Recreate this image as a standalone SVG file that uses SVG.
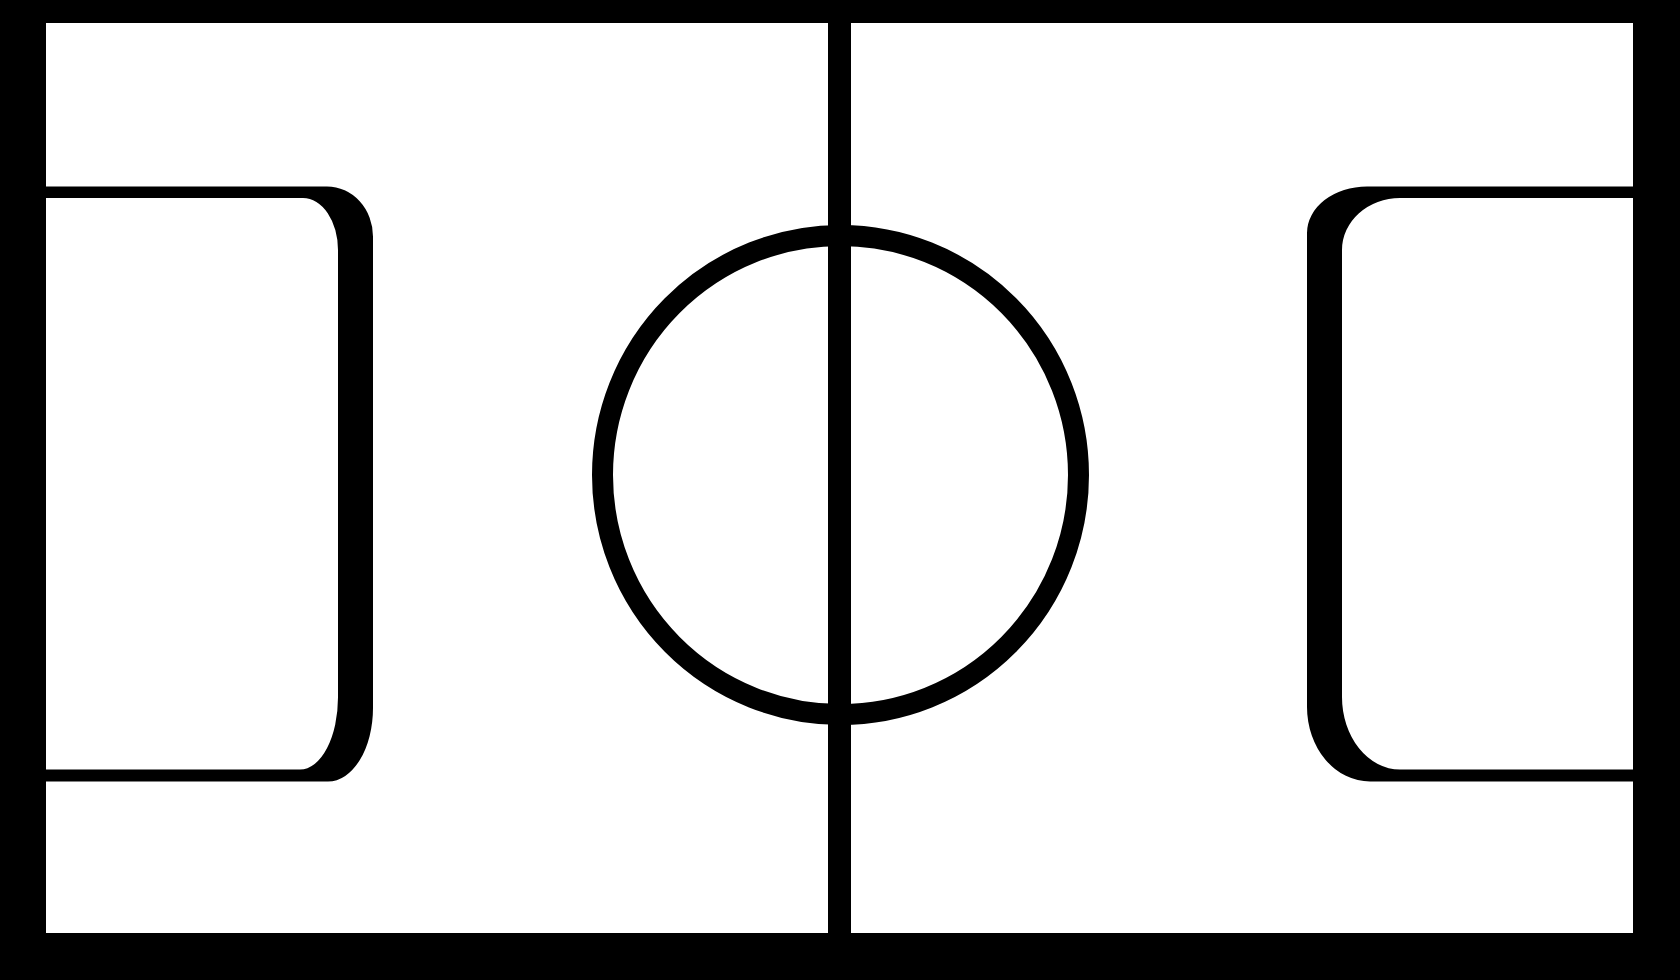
<svg xmlns="http://www.w3.org/2000/svg" width="1680" height="980" viewBox="0 0 1680 980">
<style>
.ink{fill:#000}
.field{fill:#fff}
.ring{fill:none;stroke:#000;stroke-width:21}
</style>
<rect id="frame" class="ink" x="0" y="0" width="1680" height="980"/>
<rect id="pitch" class="field" x="46" y="23" width="1587" height="910"/>
<g id="left-box">
<path class="ink" fill-rule="evenodd" d="M40,186.5 H327 A46,50 0 0 1 373,237 V708 A45,73.5 0 0 1 328,781.5 H40 Z M40,198 H303 A35,52 0 0 1 338,250 V697 A38,72 0 0 1 300,769.5 H40 Z"/>
</g>
<g id="right-box">
<path class="ink" fill-rule="evenodd" d="M1640,186.5 H1367 A60,46.5 0 0 0 1307,233 V707 A63,74.5 0 0 0 1370,781.5 H1640 Z M1640,198 H1400 A58,52 0 0 0 1342,250 V697 A58,72.5 0 0 0 1400,769.5 H1640 Z"/>
</g>
<g id="centre-circle">
<ellipse class="ring" cx="840.5" cy="475" rx="238" ry="239.5"/>
</g>
<g id="halfway-line">
<rect class="ink" x="828" y="20" width="23" height="916"/>
</g>
</svg>
